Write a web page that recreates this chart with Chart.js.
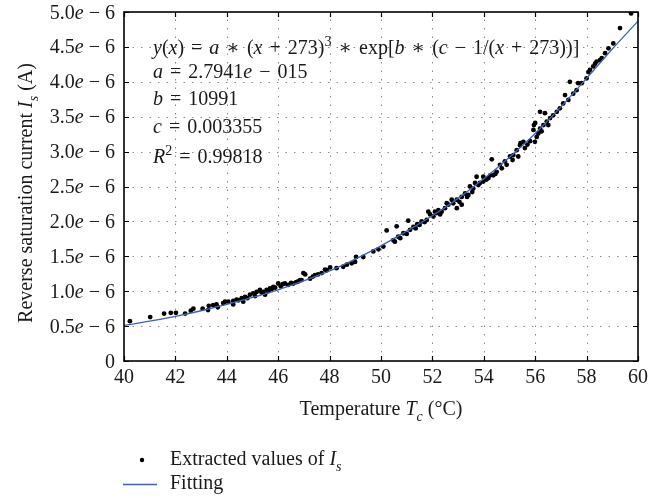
<!DOCTYPE html>
<html>
<head>
<meta charset="utf-8">
<script src="https://cdn.jsdelivr.net/npm/chart.js@4"></script>
<style>
  html, body { margin: 0; padding: 0; background: #fff; }
</style>
</head>
<body>
<canvas id="chart" width="661" height="498"></canvas>
<script>
// --- Data (current values in units of 1e-6 A) ---
const tempC = [
  40.23, 41.02, 41.56, 41.82, 42.02, 42.38, 42.60, 42.70, 43.06, 43.27,
  43.30, 43.47, 43.60, 43.65, 43.86, 43.93, 44.06, 44.25, 44.25, 44.38,
  44.45, 44.58, 44.64, 44.71, 44.80, 44.90, 45.03, 45.10, 45.16, 45.29,
  45.35, 45.42, 45.49, 45.55, 45.62, 45.68, 45.75, 45.81, 45.88, 46.00,
  46.10, 46.17, 46.26, 46.39, 46.50, 46.59, 46.70, 46.78, 46.85, 46.91,
  46.98, 47.05, 47.24, 47.35, 47.43, 47.55, 47.69, 47.82, 47.89, 48.02,
  48.27, 48.53, 48.67, 48.86, 48.99, 49.03, 49.31, 49.70, 49.90, 50.09,
  50.22, 50.48, 50.54, 50.61, 50.67, 50.75, 50.87, 51.00, 51.06, 51.13,
  51.26, 51.35, 51.41, 51.50, 51.58, 51.70, 51.78, 51.84, 51.91, 52.04,
  52.10, 52.17, 52.23, 52.30, 52.36, 52.49, 52.56, 52.62, 52.75, 52.81,
  52.95, 52.95, 53.05, 53.14, 53.14, 53.27, 53.35, 53.40, 53.46, 53.55,
  53.59, 53.66, 53.72, 53.79, 53.85, 53.98, 53.98, 54.10, 54.18, 54.25,
  54.31, 54.37, 54.45, 54.50, 54.63, 54.70, 54.82, 54.89, 55.02, 55.12,
  55.15, 55.28, 55.34, 55.41, 55.43, 55.54, 55.60, 55.70, 55.80, 55.93,
  55.95, 55.99, 56.00, 56.06, 56.12, 56.19, 56.19, 56.25, 56.32, 56.38,
  56.45, 56.51, 56.58, 56.70, 56.84, 56.96, 57.09, 57.16, 57.29, 57.35,
  57.48, 57.61, 57.67, 57.81, 58.00, 58.07, 58.13, 58.26, 58.33, 58.39,
  58.52, 58.59, 58.72, 58.85, 59.04, 59.30, 59.73
];
const currentIs = [
  0.57, 0.63, 0.68, 0.69, 0.69, 0.68, 0.72, 0.75, 0.75, 0.73,
  0.79, 0.80, 0.81, 0.77, 0.83, 0.85, 0.85, 0.81, 0.86, 0.88,
  0.87, 0.90, 0.85, 0.92, 0.90, 0.95, 0.97, 0.93, 0.99, 1.02,
  0.98, 0.99, 0.95, 1.02, 1.00, 1.04, 1.03, 1.06, 1.05, 1.11,
  1.07, 1.10, 1.11, 1.09, 1.12, 1.11, 1.13, 1.14, 1.16, 1.16,
  1.26, 1.24, 1.18, 1.21, 1.23, 1.24, 1.26, 1.31, 1.30, 1.34,
  1.33, 1.35, 1.38, 1.40, 1.42, 1.49, 1.49, 1.57, 1.60, 1.64,
  1.87, 1.73, 1.71, 1.93, 1.78, 1.76, 1.83, 1.82, 2.01, 1.88,
  1.92, 1.90, 1.96, 1.95, 2.00, 1.99, 2.02, 2.14, 2.10, 2.07,
  2.14, 2.12, 2.16, 2.10, 2.14, 2.19, 2.26, 2.24, 2.31, 2.26,
  2.31, 2.19, 2.28, 2.35, 2.24, 2.40, 2.35, 2.38, 2.50, 2.42,
  2.47, 2.55, 2.64, 2.52, 2.55, 2.57, 2.64, 2.60, 2.62, 2.66,
  2.89, 2.66, 2.68, 2.71, 2.81, 2.76, 2.86, 2.81, 2.93, 2.88,
  2.95, 3.02, 2.93, 3.09, 3.12, 3.14, 3.05, 3.10, 3.15, 3.31,
  3.38, 3.14, 3.41, 3.21, 3.26, 3.57, 3.33, 3.29, 3.38, 3.55,
  3.43, 3.38, 3.48, 3.52, 3.57, 3.62, 3.69, 3.81, 3.74, 4.00,
  3.83, 3.88, 3.98, 3.98, 4.05, 4.14, 4.17, 4.22, 4.26, 4.29,
  4.31, 4.34, 4.41, 4.48, 4.55, 4.77, 4.98
];
const fitTemp = [40, 41, 42, 43, 44, 45, 46, 47, 48, 49, 50, 51, 52, 53, 54, 55, 56, 57, 58, 59, 60];
const fitIs = [0.51, 0.57, 0.64, 0.72, 0.81, 0.91, 1.02, 1.15, 1.29, 1.46, 1.65, 1.86, 2.08, 2.33, 2.61, 2.92, 3.26, 3.64, 4.05, 4.47, 4.87];
const xTicks = [40, 42, 44, 46, 48, 50, 52, 54, 56, 58, 60];
const yTicks = [0, 0.5, 1.0, 1.5, 2.0, 2.5, 3.0, 3.5, 4.0, 4.5, 5.0];

const FONT = '"Liberation Serif", "DejaVu Serif", serif';
const FS = 20;
const FIT_COLOR = '#3f62b4';
const OP_PAD = 7;

// --- Draw text made of parts: [text, style]; style '', 'i', 'sup', 'sub', 'op' ---
function partFont(style, size) {
    const small = (style === 'sup' || style === 'sub');
    const italic = (style === 'i' || style === 'sub');
    return (italic ? 'italic ' : '') + (small ? Math.round(size * 0.68) : size) + 'px ' + FONT;
}
function partWidth(ctx, p, size) {
    ctx.font = partFont(p[1], size);
    return ctx.measureText(p[0]).width + (p[1] === 'op' ? 2 * OP_PAD : 0);
}
function drawRich(ctx, parts, x, y, size, align) {
    let w = 0;
    parts.forEach(p => { w += partWidth(ctx, p, size); });
    let cx = x;
    if (align === 'center') cx = x - w / 2;
    if (align === 'right') cx = x - w;
    ctx.textAlign = 'left';
    parts.forEach(p => {
        ctx.font = partFont(p[1], size);
        let dy = 0;
        if (p[1] === 'sup') dy = -size * 0.4;
        if (p[1] === 'sub') dy = size * 0.28;
        ctx.fillText(p[0], cx + (p[1] === 'op' ? OP_PAD : 0), y + dy);
        cx += partWidth(ctx, p, size);
    });
}

const paperPlugin = {
    id: 'paper',
    beforeDatasetsDraw(chart) {
        const ctx = chart.ctx;
        const a = chart.chartArea;
        const xs = chart.scales.x, ys = chart.scales.y;
        ctx.save();
        ctx.strokeStyle = '#8a8a8a';
        ctx.lineWidth = 1;
        ctx.setLineDash([1.5, 7]);
        xTicks.slice(1, -1).forEach(v => {
            const px = Math.round(xs.getPixelForValue(v)) + 0.5;
            ctx.beginPath(); ctx.moveTo(px, a.bottom); ctx.lineTo(px, a.top); ctx.stroke();
        });
        yTicks.slice(1, -1).forEach(v => {
            const py = Math.round(ys.getPixelForValue(v)) + 0.5;
            ctx.beginPath(); ctx.moveTo(a.left, py); ctx.lineTo(a.right, py); ctx.stroke();
        });
        ctx.restore();
    },
    afterDatasetsDraw(chart) {
        const ctx = chart.ctx;
        const a = chart.chartArea;
        const xs = chart.scales.x, ys = chart.scales.y;
        ctx.save();

        // frame and inward ticks
        ctx.strokeStyle = '#000';
        ctx.lineWidth = 1.6;
        ctx.strokeRect(a.left, a.top, a.right - a.left, a.bottom - a.top);
        ctx.lineWidth = 1.2;
        const tl = 5;
        xTicks.forEach(v => {
            const px = Math.round(xs.getPixelForValue(v)) + 0.5;
            ctx.beginPath();
            ctx.moveTo(px, a.bottom); ctx.lineTo(px, a.bottom - tl);
            ctx.moveTo(px, a.top); ctx.lineTo(px, a.top + tl);
            ctx.stroke();
        });
        yTicks.forEach(v => {
            const py = Math.round(ys.getPixelForValue(v)) + 0.5;
            ctx.beginPath();
            ctx.moveTo(a.left, py); ctx.lineTo(a.left + tl, py);
            ctx.moveTo(a.right, py); ctx.lineTo(a.right - tl, py);
            ctx.stroke();
        });

        ctx.fillStyle = '#1a1a1a';
        ctx.textBaseline = 'alphabetic';

        // tick labels
        xTicks.forEach(v => {
            drawRich(ctx, [[String(v), '']], xs.getPixelForValue(v), a.bottom + 22, FS, 'center');
        });
        yTicks.forEach(v => {
            const parts = v === 0 ? [['0', '']] : [[v.toFixed(1), ''], ['e', 'i'], [' \u2212 6', '']];
            drawRich(ctx, parts, a.left - 9, ys.getPixelForValue(v) + 6.5, FS, 'right');
        });

        // axis titles
        drawRich(ctx, [['Temperature ', ''], ['T', 'i'], ['c', 'sub'], [' (', ''], ['\u00b0', ''], ['C)', '']],
            381, 415, FS, 'center');
        ctx.save();
        ctx.translate(32, 193);
        ctx.rotate(-Math.PI / 2);
        drawRich(ctx, [['Reverse saturation current ', ''], ['I', 'i'], ['s', 'sub'], [' (A)', '']], 0, 0, FS, 'center');
        ctx.restore();

        // fit annotation
        const ax = 153;
        drawRich(ctx, [['y', 'i'], ['(', ''], ['x', 'i'], [')', ''], ['=', 'op'], ['a', 'i'], ['\u2217', 'op'], ['(', ''],
            ['x', 'i'], ['+', 'op'], ['273)', ''], ['3', 'sup'], ['\u2217', 'op'], ['exp[', ''], ['b', 'i'],
            ['\u2217', 'op'], ['(', ''], ['c', 'i'], ['\u2212', 'op'], ['1/(', ''], ['x', 'i'], ['+', 'op'],
            ['273))]', '']], ax, 54, FS, 'left');
        drawRich(ctx, [['a', 'i'], ['=', 'op'], ['2.7941', ''], ['e', 'i'], ['\u2212', 'op'], ['015', '']], ax, 78, FS, 'left');
        drawRich(ctx, [['b', 'i'], ['=', 'op'], ['10991', '']], ax, 105, FS, 'left');
        drawRich(ctx, [['c', 'i'], ['=', 'op'], ['0.003355', '']], ax, 133, FS, 'left');
        drawRich(ctx, [['R', 'i'], ['2', 'sup'], ['=', 'op'], ['0.99818', '']], ax, 163, FS, 'left');

        // legend
        ctx.fillStyle = '#000';
        ctx.beginPath(); ctx.arc(142, 460, 2.2, 0, Math.PI * 2); ctx.fill();
        ctx.strokeStyle = FIT_COLOR;
        ctx.lineWidth = 1.3;
        ctx.beginPath(); ctx.moveTo(123, 484.5); ctx.lineTo(157, 484.5); ctx.stroke();
        ctx.fillStyle = '#1a1a1a';
        drawRich(ctx, [['Extracted values of ', ''], ['I', 'i'], ['s', 'sub']], 170, 465, FS, 'left');
        drawRich(ctx, [['Fitting', '']], 170, 489, FS, 'left');

        ctx.restore();
    }
};

const scatterPoints = tempC.map((t, i) => ({ x: t, y: currentIs[i] }));
const fitPoints = fitTemp.map((t, i) => ({ x: t, y: fitIs[i] }));

new Chart(document.getElementById('chart').getContext('2d'), {
    type: 'scatter',
    data: {
        datasets: [
            {
                label: 'Fitting',
                data: fitPoints,
                showLine: true,
                borderColor: FIT_COLOR,
                borderWidth: 1.3,
                pointRadius: 0,
                tension: 0.4,
                cubicInterpolationMode: 'monotone',
                order: 1
            },
            {
                label: 'Extracted values of Is',
                data: scatterPoints,
                backgroundColor: '#000',
                borderWidth: 0,
                pointRadius: 2.4,
                order: 2
            }
        ]
    },
    options: {
        responsive: false,
        animation: false,
        layout: { padding: { left: 124, top: 12, right: 23, bottom: 137 } },
        scales: {
            x: { type: 'linear', min: 40, max: 60, display: false },
            y: { type: 'linear', min: 0, max: 5, display: false }
        },
        plugins: {
            legend: { display: false },
            tooltip: { enabled: false }
        }
    },
    plugins: [paperPlugin]
});
</script>
</body>
</html>
